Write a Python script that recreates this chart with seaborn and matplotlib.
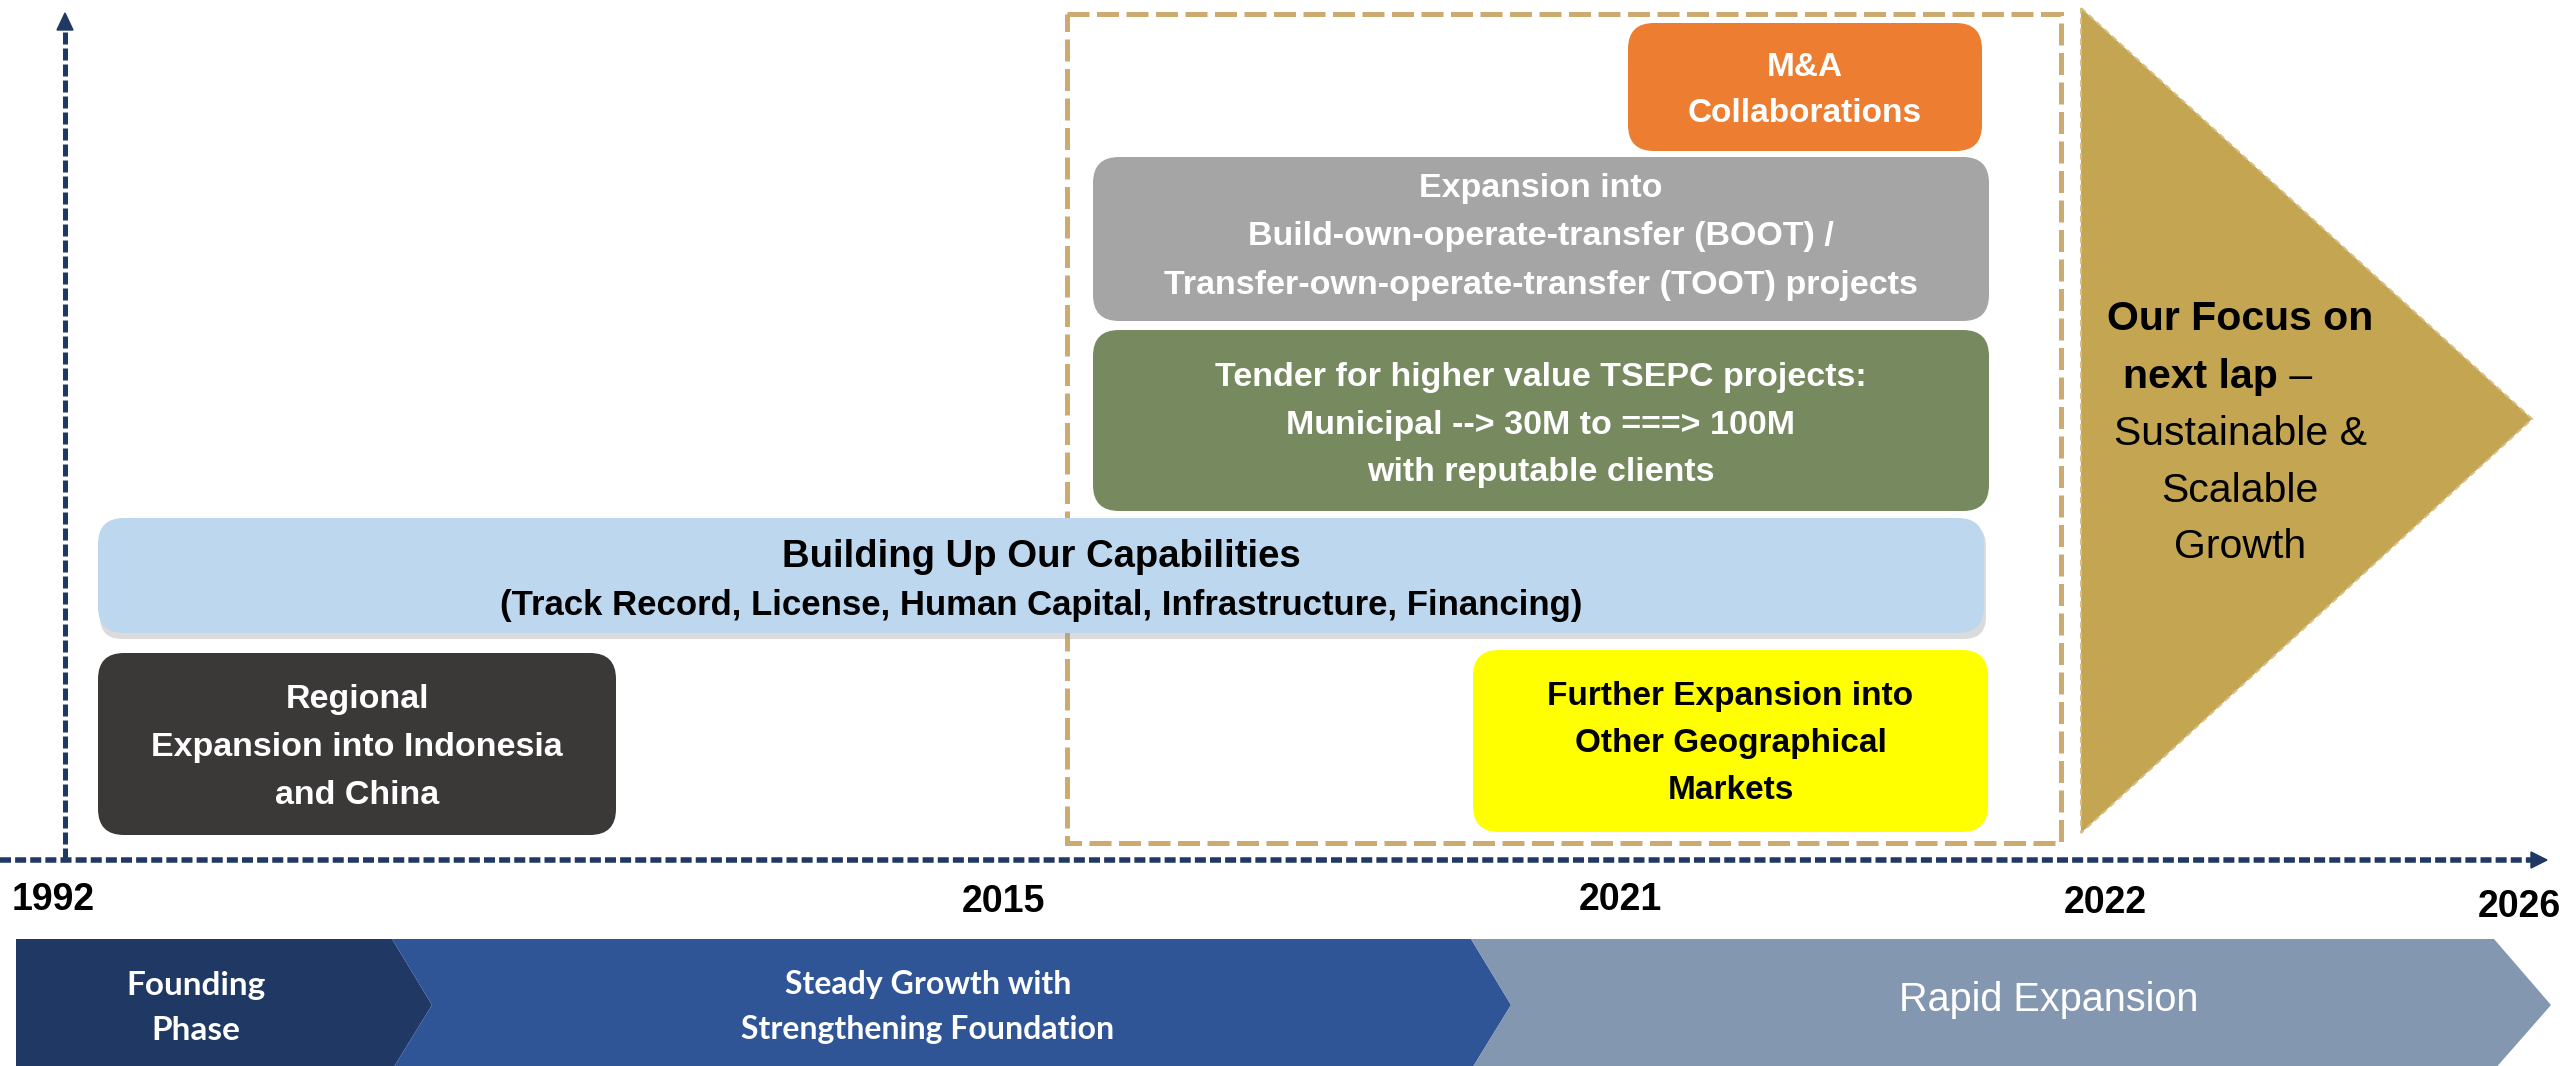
import matplotlib
matplotlib.use('Agg')
import matplotlib.pyplot as plt
from matplotlib.patches import FancyBboxPatch, Polygon, Rectangle
import seaborn as sns

# ---- chart content ----
YEARS = ['1992', '2015', '2021', '2022', '2026']
PHASES = ['Founding\nPhase', 'Steady Growth with\nStrengthening Foundation', 'Rapid Expansion']
INITIATIVES = [
    'M&A\nCollaborations',
    'Expansion into\nBuild-own-operate-transfer (BOOT) /\nTransfer-own-operate-transfer (TOOT) projects',
    'Tender for higher value TSEPC projects:\nMunicipal --> 30M to ===> 100M\nwith reputable clients',
    'Building Up Our Capabilities\n(Track Record, License, Human Capital, Infrastructure, Financing)',
    'Regional\nExpansion into Indonesia\nand China',
    'Further Expansion into\nOther Geographical\nMarkets',
]
FOCUS_BOLD = ['Our Focus on', 'next lap']
FOCUS_DASH = ' \u2013'
FOCUS_REGULAR = ['Sustainable &', 'Scalable', 'Growth']

# ---- layout (canvas pixels, y downwards) ----
W, H = 2560, 1066
NAVY = '#1F3864'
GOLD_LINE = '#CDAB70'
GOLD_FILL = '#C4A552'

YEAR_POS = [(53, 900), (1003, 902), (1620, 900), (2105, 903), (2519, 907)]

# x0, y0, x1, y1, face, text colour, fontsize (per line), line spacing
BOX_STYLE = [
    (1628, 23, 1982, 151, '#ED7D31', 'white', [24], 47),
    (1093, 157, 1989, 321, '#A5A5A5', 'white', [24.5], 48.5),
    (1093, 330, 1989, 511, '#76895F', 'white', [24.5], 47.5),
    (98, 518, 1984, 633, '#BDD7EE', 'black', [27.5, 25], 49),
    (98, 653, 616, 835, '#3B3838', 'white', [24.5], 48),
    (1473, 650, 1988, 832, '#FFFF00', 'black', [24], 47),
]
BOX_TEXT_DY = [0, -6, 1, 2, 0, -1]

PHASE_COLORS = ['#203864', '#2F5597', '#8497B0']
PHASE_EDGES = [16, 392, 1471, 2494]
NOTCH = 40
PHASE_TOP, PHASE_MID, PHASE_BOT = 939, 1005, 1070

sns.set_style('white')
plt.rcParams['font.family'] = ['Liberation Sans', 'DejaVu Sans']
plt.rcParams['text.color'] = 'black'

PX = 72 / 100  # pixel -> point at dpi 100


def draw_lines(ax, x, yc, text, spacing, sizes, **kw):
    lines = text.split('\n')
    n = len(lines)
    for i, line in enumerate(lines):
        size = sizes[min(i, len(sizes) - 1)]
        y = yc + (i - (n - 1) / 2) * spacing + 0.36 * size / PX
        ax.text(x, y, line, ha='center', va='baseline', fontsize=size, zorder=6, **kw)


fig = plt.figure(figsize=(W / 100, H / 100), dpi=100)
ax = fig.add_axes([0, 0, 1, 1])
ax.set_xlim(0, W)
ax.set_ylim(H, 0)
ax.axis('off')
sns.despine(ax=ax, left=True, bottom=True)

# axes of the timeline
ax.plot([65, 65], [860, 28], color=NAVY, lw=5 * PX, dashes=(2.4, 0.8), solid_capstyle='butt', zorder=2)
ax.add_patch(Polygon([(57, 30), (73, 30), (65, 13)], closed=True, color=NAVY, zorder=2))
ax.plot([0, 2533], [860, 860], color=NAVY, lw=5.5 * PX, dashes=(2.0, 0.75), zorder=2)
ax.add_patch(Polygon([(2531, 852), (2531, 868), (2547, 860)], closed=True, color=NAVY, zorder=2))

# dashed focus window
ax.add_patch(Rectangle((1067, 14), 2061 - 1067, 843 - 14, fill=False, edgecolor=GOLD_LINE,
                       lw=5 * PX, linestyle=(0, (4.4, 1.5)), zorder=1))

# gold arrow for next lap
ax.add_patch(Polygon([(2081, 8), (2532, 419), (2081, 833)], closed=True,
                     facecolor=GOLD_FILL, edgecolor='#D6BE86', lw=1.5, linestyle=(0, (3, 2)), zorder=2))
fx = 2240
fs = 29.5
focus_y = [315, 373, 430, 487, 543]
base = 0.36 * fs / PX
ax.text(fx, focus_y[0] + base, FOCUS_BOLD[0], ha='center', va='baseline',
        fontsize=fs, fontweight='bold', zorder=6)
ax.text(fx + 38, focus_y[1] + base, FOCUS_BOLD[1], ha='right', va='baseline',
        fontsize=fs, fontweight='bold', zorder=6)
ax.text(fx + 38, focus_y[1] + base, FOCUS_DASH, ha='left', va='baseline',
        fontsize=fs, zorder=6)
for line, y in zip(FOCUS_REGULAR, focus_y[2:]):
    ax.text(fx, y + base, line, ha='center', va='baseline', fontsize=fs, zorder=6)

# initiative boxes
for (x0, y0, x1, y1, face, tc, sizes, sp), label, dy in zip(BOX_STYLE, INITIATIVES, BOX_TEXT_DY):
    if face == '#BDD7EE':
        ax.add_patch(FancyBboxPatch((x0 + 2, y0 + 6), x1 - x0, y1 - y0,
                                    boxstyle='round,pad=0,rounding_size=22',
                                    facecolor='#9A9A9A', edgecolor='none', alpha=0.35, zorder=2))
    ax.add_patch(FancyBboxPatch((x0, y0), x1 - x0, y1 - y0,
                                boxstyle='round,pad=0,rounding_size=26',
                                facecolor=face, edgecolor='none', zorder=3))
    draw_lines(ax, (x0 + x1) / 2, (y0 + y1) / 2 + dy, label, sp, sizes,
               color=tc, fontweight='bold')

# year labels
for year, (x, y) in zip(YEARS, YEAR_POS):
    ax.text(x, y, year, ha='center', va='center', fontsize=27, fontweight='bold', color='black')

# phase chevrons
for i, (label, color) in enumerate(zip(PHASES, PHASE_COLORS)):
    xl, xr = PHASE_EDGES[i], PHASE_EDGES[i + 1]
    tip = NOTCH if i < 2 else 57
    pts = [(xl, PHASE_TOP), (xr, PHASE_TOP), (xr + tip, PHASE_MID), (xr, PHASE_BOT), (xl, PHASE_BOT)]
    if i > 0:
        pts.append((xl + NOTCH, PHASE_MID))
    ax.add_patch(Polygon(pts, closed=True, facecolor=color, edgecolor='none', zorder=2))

lato = ['Lato', 'DejaVu Sans']
draw_lines(ax, 196, 1005, PHASES[0], 45, [24], color='white', fontweight='bold', family=lato)
draw_lines(ax, 928, 1005, PHASES[1], 45, [23], color='white', fontweight='bold', family=lato)
draw_lines(ax, 2049, 997, PHASES[2], 45, [28.5], color='white')

fig.savefig('out.png', dpi=100)
